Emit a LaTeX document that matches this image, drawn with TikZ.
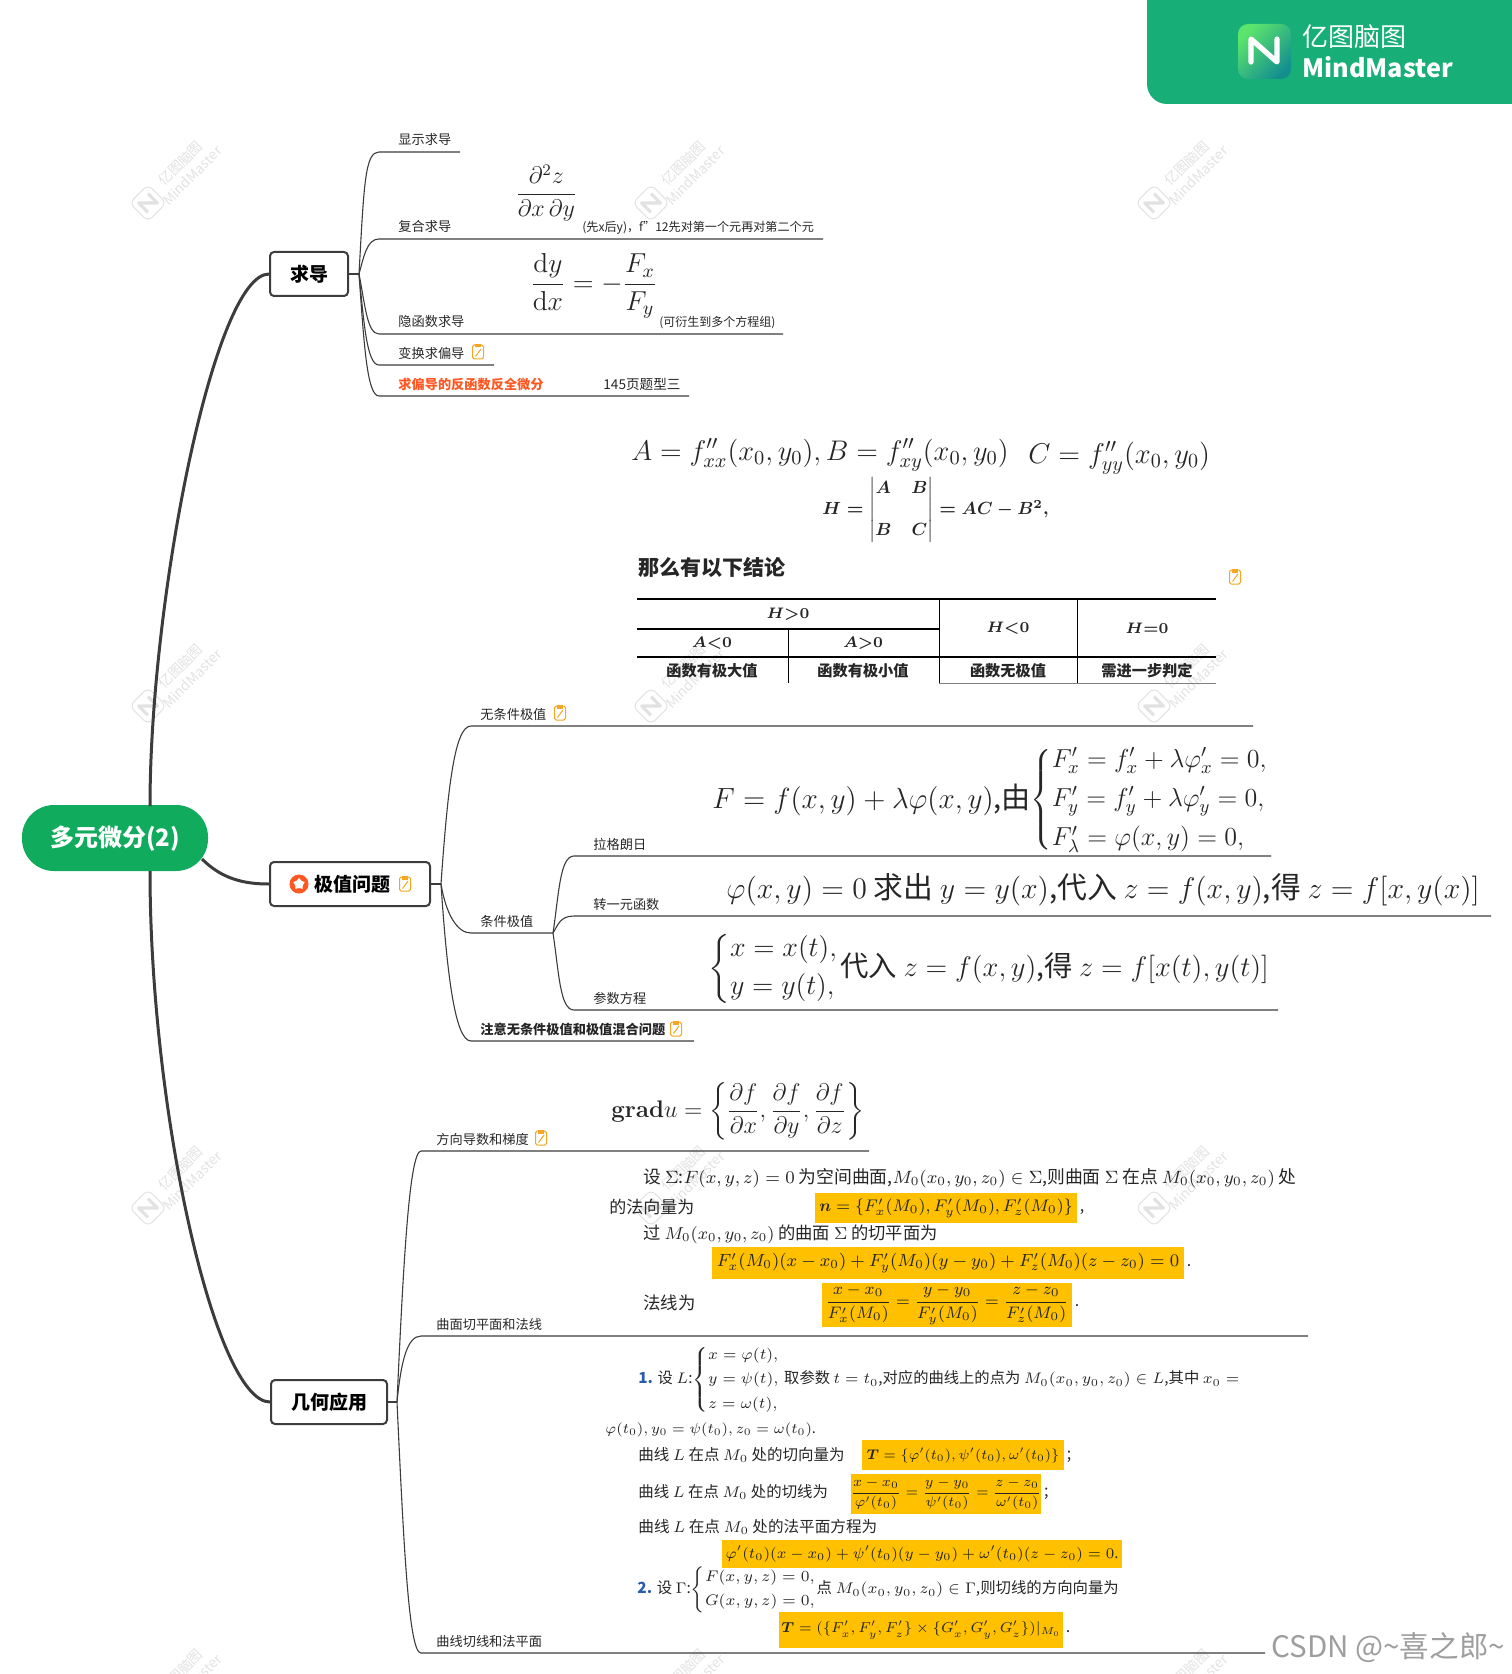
\RequirePackage{fix-cm}
\documentclass[tikz,border=0pt]{standalone}
\usepackage{amsmath}
\usepackage[no-math]{fontspec}
\setmainfont{Noto Sans CJK SC}
\usetikzlibrary{shapes.geometric}
\definecolor{cRoot}{HTML}{10AB5D}
\definecolor{cBadge}{HTML}{17AE78}
\definecolor{cIconA}{HTML}{5CE56C}
\definecolor{cIconB}{HTML}{13908E}
\definecolor{cLine}{HTML}{3C3C3C}
\definecolor{cNote}{HTML}{F5A623}
\definecolor{cHot}{HTML}{FF5722}
\definecolor{cMark}{HTML}{E2E2E2}
\definecolor{cHigh}{HTML}{FFC000}
\definecolor{cBlue}{HTML}{2A5CAA}
\definecolor{cInk}{HTML}{262626}
\newcommand{\Mz}{M_{0}}
\newcommand{\xyzz}{(x_{0},y_{0},z_{0})}
\tikzset{
  rootn/.style={fill=cRoot, text=white, rounded corners=16pt, minimum width=93pt, minimum height=33pt,
    font=\fontsize{12}{14}\selectfont\bfseries},
  topic/.style={draw=cLine, line width=1pt, rounded corners=2pt, fill=white, minimum height=22pt,
    font=\fontsize{9.5}{11}\selectfont\bfseries},
  leaf/.style={anchor=base west, inner sep=0pt, xshift=9.5pt, yshift=3.5pt, text=cInk, font=\fontsize{6.6}{8}\selectfont},
  eqn/.style={anchor=west, inner sep=0pt, text=cInk, font=\fontsize{#1}{#1}\selectfont},
  high/.style={fill=cHigh, inner sep=0pt, text=cInk},
  punct/.style={anchor=base west, inner sep=0pt, xshift=1pt, text=cInk, font=\fontsize{8}{8}\selectfont},
  cell/.style={inner sep=0pt, text=cInk, font=\fontsize{7.6}{9}\selectfont\bfseries\boldmath},
  rule/.style={draw=black, line width=#1},
  stem/.style={draw=cLine, line width=1.5pt},
  twig/.style={draw=cLine, line width=.55pt},
  noteic/.pic={
    \draw[cNote, line width=.5pt, rounded corners=.8pt, fill=white] (-5.5,-7) rectangle (5.5,7);
    \fill[cNote] (-3,-8) rectangle (3,-4.5);
    \draw[cNote, line width=.5pt] (-2.5,4.5) -- (3,-3);
  },
  wmark/.pic={
    \draw[cMark, line width=.5pt, rounded corners=3pt, rotate=45] (-13,-13) rectangle (13,13);
    \draw[cMark, line width=1.6pt, line join=round, rotate=45, scale=.55] (-12,12) -- (-12,-12) -- (12,12) -- (12,-12);
    \node[rotate=45, text=cMark, align=center, inner sep=0pt, font=\fontsize{7}{8.5}\selectfont] at (38,-34) {亿图脑图\\MindMaster};
  },
}
\begin{document}
\begin{tikzpicture}[x=.5pt, y=-.5pt]
  \useasboundingbox (0,0) rectangle (1511,1674);
  \pic at (148,203) {wmark};
  \pic at (651,203) {wmark};
  \pic at (1154,203) {wmark};
  \pic at (148,706) {wmark};
  \pic at (651,706) {wmark};
  \pic at (1154,706) {wmark};
  \pic at (148,1208) {wmark};
  \pic at (651,1208) {wmark};
  \pic at (1154,1208) {wmark};
  \pic at (148,1711) {wmark};
  \pic at (651,1711) {wmark};
  \pic at (1154,1711) {wmark};

  \fill[cBadge, rounded corners=10pt] (1147,-40) rectangle (1560,104);
  \shade[left color=cIconA, right color=cIconB, shading angle=45, rounded corners=5pt] (1238,24) rectangle (1291,79);
  \draw[white, line width=2.6pt, line join=round, line cap=round] (1251,62) -- (1251,39) -- (1277,62) -- (1277,39);
  \node[anchor=west, inner sep=0pt, text=white, font=\fontsize{13}{15}\selectfont] (bname) at (1302,37) {亿图脑图};
  \node[anchor=west, inner sep=0pt, text=white, font=\fontsize{12.6}{15}\selectfont\bfseries] (bmind) at (1302,67) {MindMaster};

  \node[rootn, text height=9pt, text depth=1pt] (root) at (115,838) {多元微分(2)};
  \node[topic, minimum width=39pt] (qiudao) at (309,274) {求导};
  \node[topic, minimum width=80pt] (jizhi) at (350,884) {\hspace{2pt}极值问题};
  \node[topic, minimum width=58pt] (jihe) at (329,1402) {几何应用};
  \coordinate (rootup) at (150,806);
  \coordinate (rootmid) at (202,859);
  \coordinate (rootdn) at (150,871);
  \draw[stem] (rootup) .. controls +(0,-206) and +(-55,0) .. (qiudao.west);
  \draw[stem] (rootmid) .. controls +(20,20) and +(-25,0) .. (jizhi.west);
  \draw[stem] (rootdn) .. controls +(0,240) and +(-55,0) .. (jihe.west);

  \node[circle, fill=cHot, inner sep=0pt, minimum size=9.5pt] (starbg) at (299,884) {};
  \node[star, fill=white, star points=5, inner sep=0pt, minimum size=6pt] (staric) at (starbg) {};
  \pic at (405,884) {noteic};

  \coordinate (hubA) at (359,274);
  \coordinate (a1) at (379,152);
  \coordinate (a1e) at (460,152);
  \coordinate (a2) at (379,239);
  \coordinate (a2e) at (823,239);
  \coordinate (a3) at (379,334);
  \coordinate (a3e) at (783,334);
  \coordinate (a4) at (379,365);
  \coordinate (a4e) at (494,365);
  \coordinate (a5) at (379,396);
  \coordinate (a5e) at (689,396);
  \draw[twig] (qiudao.east) -- (hubA);
  \draw[twig] (hubA) .. controls +(5,-90) and +(-14,0) .. (a1) -- (a1e);
  \draw[twig] (hubA) .. controls +(5,-18) and +(-12,0) .. (a2) -- (a2e);
  \draw[twig] (hubA) .. controls +(6,30) and +(-12,0) .. (a3) -- (a3e);
  \draw[twig] (hubA) .. controls +(5,50) and +(-12,0) .. (a4) -- (a4e);
  \draw[twig] (hubA) .. controls +(5,70) and +(-12,0) .. (a5) -- (a5e);
  \node[leaf] (xianshi) at (a1) {显示求导};
  \node[leaf] (fuhe) at (a2) {复合求导};
  \node[leaf] (yinhan) at (a3) {隐函数求导};
  \node[leaf] (bianhuan) at (a4) {变换求偏导};
  \node[leaf, text=cHot] (fanhan) at (a5) {\bfseries 求偏导的反函数反全微分};
  \pic at (478,352) {noteic};
  \node[leaf, xshift=-9.5pt, font=\fontsize{6.8}{8}\selectfont] (tixing) at (603,396) {145页题型三};
  \node[eqn=12] (pdz) at (515,193) {$\dfrac{\partial^{2} z}{\partial x\,\partial y}$};
  \node[leaf, xshift=-9.5pt, font=\fontsize{6.05}{7}\selectfont] (xianx) at (582,239) {(先x后y)，f"12先对第一个元再对第二个元};
  \node[eqn=13.7] (dydx) at (530,286) {$\dfrac{\mathrm{d}y}{\mathrm{d}x}=-\dfrac{F_{x}}{F_{y}}$};
  \node[leaf, xshift=-9.5pt, font=\fontsize{6}{7}\selectfont] (yansheng) at (659,334) {(可衍生到多个方程组)};

  \coordinate (hubB) at (441,884);
  \coordinate (b1) at (471,726);
  \coordinate (b1e) at (1253,726);
  \coordinate (b2) at (471,933);
  \coordinate (hubC) at (553,933);
  \coordinate (b3) at (471,1041);
  \coordinate (b3e) at (694,1041);
  \draw[twig] (jizhi.east) -- (hubB);
  \draw[twig] (hubB) .. controls +(7,-100) and +(-16,0) .. (b1) -- (b1e);
  \draw[twig] (hubB) .. controls +(5,30) and +(-14,0) .. (b2) -- (hubC);
  \draw[twig] (hubB) .. controls +(6,90) and +(-16,0) .. (b3) -- (b3e);
  \node[leaf, xshift=-5pt] (wutiaojian) at (b1) {无条件极值};
  \pic at (560,713) {noteic};
  \node[leaf, xshift=-5pt] (tiaojian) at (b2) {条件极值};
  \node[leaf, xshift=-5pt] (zhuyi) at (b3) {\bfseries 注意无条件极值和极值混合问题};
  \pic at (676,1029) {noteic};
  \coordinate (c1) at (574,856);
  \coordinate (c1e) at (1271,856);
  \coordinate (c2) at (574,916);
  \coordinate (c2e) at (1491,916);
  \coordinate (c3) at (574,1010);
  \coordinate (c3e) at (1278,1010);
  \draw[twig] (hubC) .. controls +(6,-40) and +(-14,0) .. (c1) -- (c1e);
  \draw[twig] (hubC) .. controls +(5,-8) and +(-14,0) .. (c2) -- (c2e);
  \draw[twig] (hubC) .. controls +(6,40) and +(-14,0) .. (c3) -- (c3e);
  \node[leaf] (lagrange) at (c1) {拉格朗日};
  \node[leaf] (zhuanyi) at (c2) {转一元函数};
  \node[leaf] (canshu) at (c3) {参数方程};

  \coordinate (hubD) at (397,1402);
  \coordinate (d1) at (421,1151);
  \coordinate (d1e) at (869,1151);
  \coordinate (d2) at (421,1336);
  \coordinate (d2e) at (1308,1336);
  \coordinate (d3) at (421,1653);
  \coordinate (d3e) at (1265,1653);
  \draw[twig] (jihe.east) -- (hubD);
  \draw[twig] (hubD) .. controls +(6,-130) and +(-12,0) .. (d1) -- (d1e);
  \draw[twig] (hubD) .. controls +(4,-40) and +(-14,0) .. (d2) -- (d2e);
  \draw[twig] (hubD) .. controls +(7,150) and +(-12,0) .. (d3) -- (d3e);
  \node[leaf, xshift=-2pt] (fangxiang) at (d1) {方向导数和梯度};
  \pic at (541,1138) {noteic};
  \node[leaf, xshift=-2pt] (qumian) at (d2) {曲面切平面和法线};
  \node[leaf, xshift=-2pt] (quxian) at (d3) {曲线切线和法平面};

  \node[eqn=14.2] (eqA) at (631,455) {$A=f''_{xx}(x_{0},y_{0}),B=f''_{xy}(x_{0},y_{0})$};
  \node[eqn=14.3] (eqC) at (1028,458) {$C=f''_{yy}(x_{0},y_{0})$};
  \node[eqn=8.8, font=\fontsize{8.8}{10}\selectfont\boldmath] (eqH) at (822,510) {$H=\begin{vmatrix}A&B\\[11pt]B&C\end{vmatrix}=AC-B^{2},$};
  \node[eqn=10.5, font=\fontsize{10.5}{12}\selectfont\bfseries] (jielun) at (638,567) {那么有以下结论};
  \pic at (1235,577) {noteic};

  \draw[rule=1pt] (637,599) -- (1216,599);
  \draw[rule=.6pt] (637,629) -- (939,629);
  \draw[rule=.8pt] (637,657) -- (1216,657);
  \draw[rule=.4pt, draw=black!50] (939,683) -- (1216,683);
  \draw[rule=.5pt] (788,629) -- (788,683);
  \draw[rule=.5pt] (939,599) -- (939,683);
  \draw[rule=.5pt] (1077,599) -- (1077,683);
  \node[cell] (hgt) at (788,614) {$H{>}0$};
  \node[cell] (alt) at (712,643) {$A{<}0$};
  \node[cell] (agt) at (863,643) {$A{>}0$};
  \node[cell] (hlt) at (1008,628) {$H{<}0$};
  \node[cell] (heq) at (1147,628) {$H{=}0$};
  \node[cell] (tbig) at (712,671) {函数有极大值};
  \node[cell] (tsmall) at (863,671) {函数有极小值};
  \node[cell] (tnone) at (1008,671) {函数无极值};
  \node[cell] (tmore) at (1147,671) {需进一步判定};

  \node[eqn=14.6] (lag) at (712,800) {$F=f(x,y)+\lambda\varphi(x,y)$,由};
  \node[eqn=13] (lagcases) at (1030,800) {$\begin{cases}F'_{x}=f'_{x}+\lambda\varphi'_{x}=0,\\[4pt] F'_{y}=f'_{y}+\lambda\varphi'_{y}=0,\\[4pt] F'_{\lambda}=\varphi(x,y)=0,\end{cases}$};
  \node[eqn=14.9] (oneyuan) at (726,890) {$\varphi(x,y)=0$ 求出 $y=y(x)$,代入 $z=f(x,y)$,得 $z=f[x,y(x)]$};
  \node[eqn=14] (paramcases) at (708,969) {$\begin{cases}x=x(t),\\[2pt] y=y(t),\end{cases}$};
  \node[eqn=14.2] (param) at (840,968) {代入 $z=f(x,y)$,得 $z=f[x(t),y(t)]$};
  \node[eqn=12] (grad) at (611,1111) {$\mathbf{grad}u=\left\{\dfrac{\partial f}{\partial x},\dfrac{\partial f}{\partial y},\dfrac{\partial f}{\partial z}\right\}$};

  \node[eqn=8.9] (sA) at (643,1178) {设 $\Sigma$:$F(x,y,z)=0$ 为空间曲面,$\Mz\xyzz\in\Sigma$,则曲面 $\Sigma$ 在点 $\Mz\xyzz$ 处};
  \node[eqn=8.5] (sB) at (609,1207) {的法向量为};
  \node[high, minimum width=131pt, minimum height=15pt] (hlN) at (946,1208) {\fontsize{8.4}{8.4}\selectfont $\boldsymbol{n}=\{F'_{x}(\Mz),F'_{y}(\Mz),F'_{z}(\Mz)\}$};
  \node[punct] (hlNc) at (hlN.base east) {,};
  \node[eqn=8.65] (sC) at (643,1234) {过 $\Mz\xyzz$ 的曲面 $\Sigma$ 的切平面为};
  \node[high, minimum width=236pt, minimum height=16pt] (hlT) at (948,1263) {\fontsize{8.8}{8.8}\selectfont $F'_{x}(\Mz)(x-x_{0})+F'_{y}(\Mz)(y-y_{0})+F'_{z}(\Mz)(z-z_{0})=0$};
  \node[punct] (hlTc) at (hlT.base east) {.};
  \node[eqn=8.7] (sD) at (643,1303) {法线为};
  \node[high, minimum width=125pt, minimum height=22pt] (hlF) at (947,1305) {\fontsize{8.3}{8.3}\selectfont $\dfrac{x-x_{0}}{F'_{x}(\Mz)}=\dfrac{y-y_{0}}{F'_{y}(\Mz)}=\dfrac{z-z_{0}}{F'_{z}(\Mz)}$};
  \node[punct] (hlFc) at (hlF.base east) {.};

  \node[eqn=7.65] (cA) at (638,1380) {\textcolor{cBlue}{\bfseries 1.} 设 $L$:$\begin{cases}x=\varphi(t),\\[3pt] y=\psi(t),\\[3pt] z=\omega(t),\end{cases}$\hspace{-6pt}取参数 $t=t_{0}$,对应的曲线上的点为 $\Mz\xyzz\in L$,其中 $x_{0}=$};
  \node[eqn=7.25] (cB) at (605,1430) {$\varphi(t_{0}),y_{0}=\psi(t_{0}),z_{0}=\omega(t_{0})$.};
  \node[eqn=7.75] (cC) at (638,1455) {曲线 $L$ 在点 $\Mz$ 处的切向量为};
  \node[high, minimum width=101pt, minimum height=15pt] (hlV) at (963,1455) {\fontsize{7}{7}\selectfont $\boldsymbol{T}=\{\varphi'(t_{0}),\psi'(t_{0}),\omega'(t_{0})\}$};
  \node[punct] (hlVc) at (hlV.base east) {;};
  \node[eqn=7.7] (cD) at (638,1492) {曲线 $L$ 在点 $\Mz$ 处的切线为};
  \node[high, minimum width=95pt, minimum height=20pt] (hlL) at (946,1494) {\fontsize{7}{7}\selectfont $\dfrac{x-x_{0}}{\varphi'(t_{0})}=\dfrac{y-y_{0}}{\psi'(t_{0})}=\dfrac{z-z_{0}}{\omega'(t_{0})}$};
  \node[punct] (hlLc) at (hlL.base east) {;};
  \node[eqn=7.8] (cE) at (638,1527) {曲线 $L$ 在点 $\Mz$ 处的法平面方程为};
  \node[high, minimum width=200pt, minimum height=14pt] (hlP) at (922,1554) {\fontsize{7.45}{7.45}\selectfont $\varphi'(t_{0})(x-x_{0})+\psi'(t_{0})(y-y_{0})+\omega'(t_{0})(z-z_{0})=0$.};
  \node[eqn=7.7] (cF) at (637,1590) {\textcolor{cBlue}{\bfseries 2.} 设 $\Gamma$:$\begin{cases}F(x,y,z)=0,\\[3pt] G(x,y,z)=0,\end{cases}$\hspace{-8pt}点 $\Mz\xyzz\in\Gamma$,则切线的方向向量为};
  \node[high, minimum width=142pt, minimum height=18pt] (hlG) at (921,1630) {\fontsize{7.2}{7.2}\selectfont $\boldsymbol{T}=(\{F'_{x},F'_{y},F'_{z}\}\times\{G'_{x},G'_{y},G'_{z}\})|_{\Mz}$};
  \node[punct] (hlGc) at (hlG.base east) {.};

  \node[anchor=west, inner sep=0pt, text=black!38, font=\fontsize{14.8}{16}\selectfont] (csdn) at (1271,1648) {CSDN @\textasciitilde 喜之郎\textasciitilde};
\end{tikzpicture}
\end{document}
